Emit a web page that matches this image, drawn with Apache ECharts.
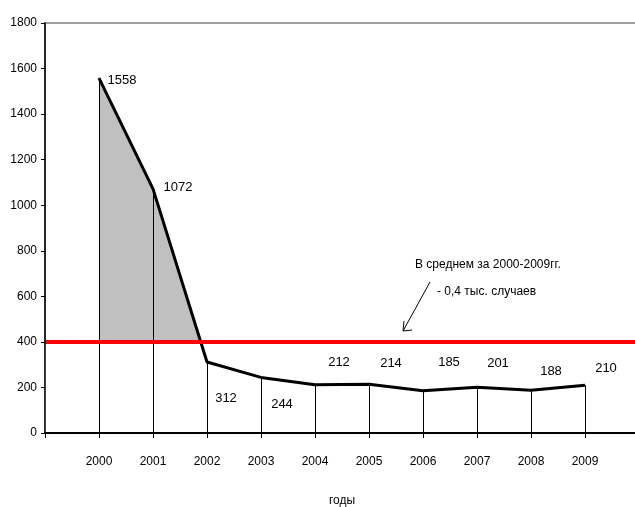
<!DOCTYPE html>
<html>
<head>
<meta charset="utf-8">
<script src="https://cdn.jsdelivr.net/npm/echarts@6/dist/echarts.min.js"></script>
<style>html,body{margin:0;padding:0;background:#fff;overflow:hidden}#c{width:635px;height:507px}</style>
</head>
<body>
<div id="c"></div>
<script>
const years = [2000, 2001, 2002, 2003, 2004, 2005, 2006, 2007, 2008, 2009];
const cases = [1558, 1072, 312, 244, 212, 214, 185, 201, 188, 210];
const averageValue = 400;
const yMin = 0, yMax = 1800, yStep = 200;
const xMin = 1999, xMax = 2010;
const axisTitle = 'годы';
const noteLine1 = 'В среднем за 2000-2009гг.';
const noteLine2 = '- 0,4 тыс. случаев';
// label offsets (style only)
const labelOffsets = [[23, 2], [25, -1], [19, 36], [21, 27], [24, -22], [22, -21], [26, -28], [21, -24], [20, -19], [21, -17]];

const font = '"Liberation Sans", Arial, sans-serif';

const pts = years.map((y, i) => [y, cases[i]]);
const chart = echarts.init(document.getElementById('c'));
chart.setOption({
  animation: false,
  backgroundColor: '#fff',
  grid: { left: 45, top: 23, bottom: 74, width: 594, show: true, borderColor: '#808080', borderWidth: 1.5,
    containLabel: false, outerBoundsMode: 'none' },
  xAxis: {
    type: 'value', min: xMin, max: xMax, interval: 1, z: 10,
    name: axisTitle, nameLocation: 'middle', nameGap: 62,
    nameTextStyle: { fontFamily: font, fontSize: 12, color: '#000' },
    axisLine: { show: true, onZero: false, lineStyle: { color: '#000', width: 2 } },
    axisTick: { show: true, length: 5, lineStyle: { color: '#000', width: 1 } },
    axisLabel: { margin: 23, fontFamily: font, fontSize: 12, color: '#000',
      formatter: v => (v >= years[0] && v <= years[years.length - 1]) ? String(v) : '' },
    splitLine: { show: false }
  },
  yAxis: {
    type: 'value', min: yMin, max: yMax, interval: yStep, z: 10,
    axisLine: { show: true, lineStyle: { color: '#000', width: 1.5 } },
    axisTick: { show: true, length: 4, lineStyle: { color: '#000' } },
    axisLabel: { margin: 8, fontFamily: font, fontSize: 12, color: '#000', formatter: v => String(v) },
    splitLine: { show: false }
  },
  series: [
    {
      type: 'line', data: pts, z: 0, silent: true, symbol: 'none',
      lineStyle: { width: 0 }, areaStyle: { color: '#c0c0c0', opacity: 1 }
    },
    {
      type: 'line', data: pts, z: 2, silent: true, symbol: 'none',
      lineStyle: { opacity: 0 },
      markArea: { silent: true, z: 2, itemStyle: { color: '#ffffff', opacity: 1 },
        data: [[{ coord: [xMin, yMin] }, { coord: [xMax, averageValue] }]] }
    },
    {
      type: 'line', z: 3, silent: true,
      data: pts.map((p, i) => ({ value: p, label: { offset: labelOffsets[i] } })),
      symbol: 'circle', symbolSize: 1, showSymbol: true,
      itemStyle: { color: '#000' },
      lineStyle: { color: '#000', width: 3 },
      label: { show: true, position: 'inside', fontFamily: font, fontSize: 13, color: '#000' },
      markLine: {
        silent: true, z: 3, symbol: ['none', 'none'],
        lineStyle: { color: '#000', width: 1, type: 'solid' },
        label: { show: false },
        data: pts.map(p => [{ coord: [p[0], yMin] }, { coord: [p[0], p[1]] }])
      }
    },
    {
      type: 'line', z: 4, silent: true, data: [[xMin, averageValue]], symbol: 'none',
      lineStyle: { opacity: 0 },
      markLine: {
        silent: true, z: 6, symbol: ['none', 'none'],
        lineStyle: { color: '#ff0000', width: 4, type: 'solid' },
        label: { show: false },
        data: [{ yAxis: averageValue }]
      }
    }
  ],
  graphic: [
    { type: 'text', x: 415, y: 265, style: { text: noteLine1, fontFamily: font, fontSize: 12, fill: '#000', textVerticalAlign: 'middle' } },
    { type: 'text', x: 437, y: 292, style: { text: noteLine2, fontFamily: font, fontSize: 12, fill: '#000', textVerticalAlign: 'middle' } },
    { type: 'line', shape: { x1: 430, y1: 282, x2: 403, y2: 331 }, style: { stroke: '#000', lineWidth: 1 } },
    { type: 'polyline', shape: { points: [[404, 321], [403, 331], [412, 330]] }, style: { stroke: '#000', lineWidth: 1, fill: null } }
  ]
});
</script>
</body>
</html>
